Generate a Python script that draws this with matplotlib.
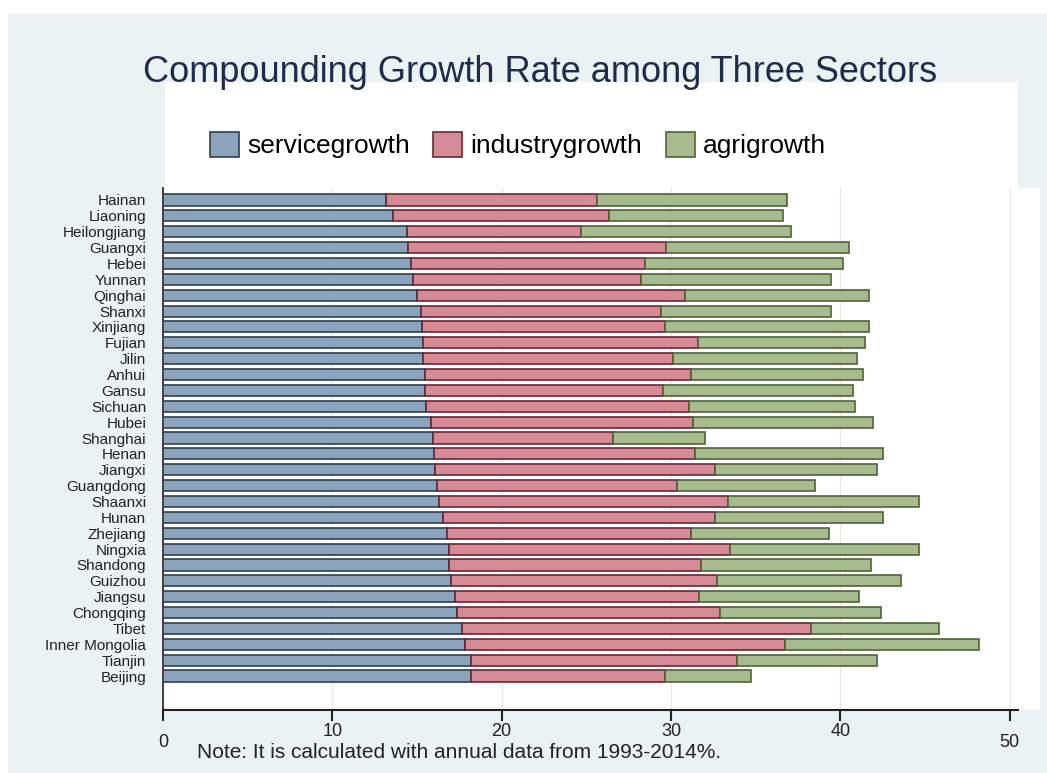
import matplotlib
matplotlib.use("Agg")
import matplotlib.pyplot as plt
from matplotlib.patches import Rectangle
import numpy as np

plt.rcParams['font.family'] = ['Liberation Sans', 'DejaVu Sans']

provinces = [
    "Hainan", "Liaoning", "Heilongjiang", "Guangxi", "Hebei", "Yunnan",
    "Qinghai", "Shanxi", "Xinjiang", "Fujian", "Jilin", "Anhui", "Gansu",
    "Sichuan", "Hubei", "Shanghai", "Henan", "Jiangxi", "Guangdong",
    "Shaanxi", "Hunan", "Zhejiang", "Ningxia", "Shandong", "Guizhou",
    "Jiangsu", "Chongqing", "Tibet", "Inner Mongolia", "Tianjin", "Beijing",
]

servicegrowth = [
    13.20, 13.57, 14.43, 14.45, 14.63, 14.75, 14.98, 15.22, 15.30, 15.34,
    15.38, 15.50, 15.50, 15.54, 15.81, 15.93, 16.00, 16.09, 16.20, 16.32,
    16.52, 16.75, 16.87, 16.91, 17.00, 17.23, 17.35, 17.66, 17.86, 18.20,
    18.22,
]

industrygrowth = [
    12.42, 12.76, 10.24, 15.26, 13.82, 13.46, 15.87, 14.21, 14.33, 16.26,
    14.72, 15.70, 14.05, 15.51, 15.48, 10.63, 15.40, 16.50, 14.14, 17.05,
    16.07, 14.45, 16.62, 14.89, 15.74, 14.45, 15.55, 20.63, 18.90, 15.72,
    11.41,
]

agrigrowth = [
    11.26, 10.31, 12.44, 10.83, 11.73, 11.26, 10.87, 10.04, 12.09, 9.88,
    10.90, 10.17, 11.23, 9.85, 10.67, 5.47, 11.15, 9.60, 8.19, 11.30,
    9.96, 8.16, 11.18, 10.00, 10.87, 9.45, 9.53, 7.57, 11.46, 8.27,
    5.08,
]

series_names = ["servicegrowth", "industrygrowth", "agrigrowth"]
face_colors = ["#8CA3BC", "#D48B95", "#A7BB8F"]
edge_colors = ["#2E4058", "#6E2633", "#4F6338"]

W, H = 1047, 773
fig = plt.figure(figsize=(W / 100, H / 100), dpi=100)
fig.patch.set_facecolor("white")


def fx(px):
    return px / W


def fy(py):
    return 1 - py / H


# graph region background and legend region
fig.patches.append(Rectangle((fx(8), 0), 1 - fx(8), fy(14), transform=fig.transFigure,
                             facecolor="#EAF2F3", edgecolor="none", zorder=-3))
fig.patches.append(Rectangle((fx(165), fy(188)), fx(1018) - fx(165), fy(82) - fy(188),
                             transform=fig.transFigure, facecolor="white",
                             edgecolor="none", zorder=-2))

ax = fig.add_axes([fx(163), fy(710), fx(1040) - fx(163), fy(188) - fy(710)])
ax.set_zorder(1)
ax.set_facecolor("white")

y = np.arange(len(provinces))
left = np.zeros(len(provinces))
for vals, name, fc, ec in zip([servicegrowth, industrygrowth, agrigrowth],
                              series_names, face_colors, edge_colors):
    ax.barh(y, vals, left=left, height=0.7, color=fc, edgecolor=ec,
            linewidth=1.2, label=name, zorder=3)
    left = left + np.array(vals)

ax.set_xlim(0, 51.8)
ax.set_ylim(32.14, -0.756)

ax.set_yticks(y)
ax.set_yticklabels(provinces, fontsize=11, color="#222222")
ax.tick_params(axis="y", length=0, pad=12)

ax.set_xticks([0, 10, 20, 30, 40, 50])
ax.set_xticklabels(["0", "10", "20", "30", "40", "50"], fontsize=13, color="#222222")
ax.tick_params(axis="x", length=8, width=1.5, color="#222222", pad=1)
ticks = ax.xaxis.get_major_ticks()
ticks[0].set_pad(9)
ticks[-1].set_pad(9)

ax.grid(axis="x", color="#E6E6E6", linewidth=0.8, zorder=0)
ax.set_axisbelow(True)

for side in ["top", "right"]:
    ax.spines[side].set_visible(False)
ax.spines["left"].set_color("#222222")
ax.spines["left"].set_linewidth(1.2)
ax.spines["bottom"].set_color("#222222")
ax.spines["bottom"].set_linewidth(1.5)
ax.spines["bottom"].set_bounds(0, 50.5)

fig.text(fx(540), fy(72), "Compounding Growth Rate among Three Sectors",
         ha="center", va="center", fontsize=26, color="#1E2B4A", zorder=5)

leg = fig.legend(loc="center", bbox_to_anchor=(fx(518), fy(145)), ncol=3,
                 frameon=False, fontsize=19, handlelength=1.1, handleheight=1.1,
                 handletextpad=0.3, columnspacing=0.9)
for patch in leg.get_patches():
    patch.set_linewidth(1.2)

fig.text(fx(197), fy(752), "Note: It is calculated with annual data from 1993-2014%.",
         ha="left", va="center", fontsize=15, color="#222222")

fig.savefig("out.png", dpi=100)
